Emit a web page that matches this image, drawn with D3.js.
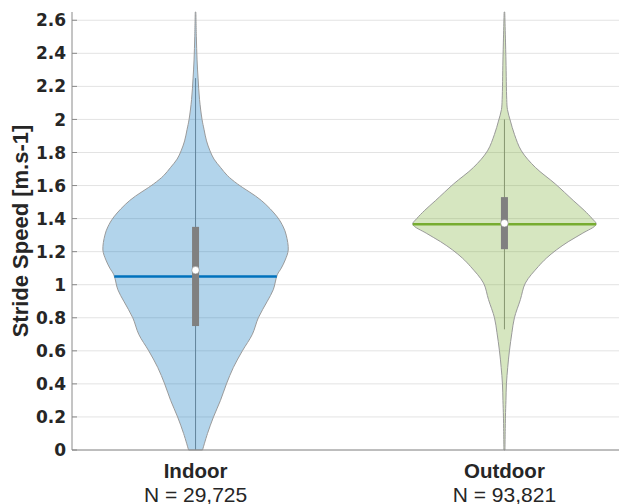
<!DOCTYPE html>
<html>
<head>
<meta charset="utf-8">
<script src="https://cdn.jsdelivr.net/npm/d3@7"></script>
<style>
  html, body { margin: 0; padding: 0; background: #fff; }
  svg { display: block; }
</style>
</head>
<body>
<svg id="chart" width="619" height="504"></svg>
<script>
// ---------------- data ----------------
const categories = ["Indoor", "Outdoor"];
const sampleSizes = ["N = 29,725", "N = 93,821"];

// kernel density outline (speed in m/s, relative density)
const indoorSpeed   = [0, 0.1, 0.2, 0.3, 0.4, 0.5, 0.6, 0.7, 0.8, 0.9, 0.97, 1.06, 1.1, 1.15, 1.21, 1.3, 1.35, 1.41, 1.51, 1.61, 1.66, 1.71, 1.76, 1.81, 1.87, 1.94, 2.0, 2.12, 2.25, 2.36, 2.5, 2.65];
const indoorDensity = [7, 12, 18, 25, 31, 38, 47, 57, 63, 72, 78, 82, 86, 90, 93, 91, 88, 82, 66, 42, 32, 25, 18.5, 14.5, 11, 8.5, 6.5, 4, 2.5, 1.5, 0.8, 0.3];

const outdoorSpeed   = [0, 0.2, 0.3, 0.4, 0.5, 0.6, 0.71, 0.8, 0.91, 1.01, 1.11, 1.16, 1.21, 1.26, 1.31, 1.366, 1.4, 1.45, 1.51, 1.61, 1.71, 1.81, 1.91, 1.99, 2.06, 2.12, 2.36, 2.65];
const outdoorDensity = [0.5, 1, 1.5, 2, 3.3, 5, 7.5, 10, 16, 21, 34, 42, 52, 64, 78, 92, 88, 80, 69, 51, 31, 17, 10, 6, 3, 2.3, 1.5, 0.3];

const medians   = [1.05, 1.366];
const means     = [1.088, 1.372];
const quartile1 = [0.75, 1.215];
const quartile3 = [1.35, 1.53];
const whiskerLo = [0, 0.73];
const whiskerHi = [2.25, 2.0];

const yTicks      = [0, 0.2, 0.4, 0.6, 0.8, 1, 1.2, 1.4, 1.6, 1.8, 2, 2.2, 2.4, 2.6];
const yTickLabels = ["0", "0.2", "0.4", "0.6", "0.8", "1", "1.2", "1.4", "1.6", "1.8", "2", "2.2", "2.4", "2.6"];

const colors = ["rgb(0,114,189)", "rgb(119,172,48)"];

// ---------------- layout ----------------
const svg = d3.select("#chart");
const plotLeft = 72, plotRight = 628, plotTop = 12, plotBottom = 450;

const x = d3.scaleLinear().domain([0.6, 2.4]).range([plotLeft, plotRight]);
const y = d3.scaleLinear().domain([0, 2.65]).range([plotBottom, plotTop]);
const maxDensity = d3.max([...indoorDensity, ...outdoorDensity]);
const w = d3.scaleLinear().domain([0, maxDensity]).range([0, 0.3]);

const violins = [
  { speed: indoorSpeed, density: indoorDensity },
  { speed: outdoorSpeed, density: outdoorDensity }
];

// grid
svg.append("g").selectAll("line").data(yTicks).join("line")
  .attr("x1", plotLeft).attr("x2", 619)
  .attr("y1", d => y(d)).attr("y2", d => y(d))
  .attr("stroke", "#e3e3e3").attr("stroke-width", 1);

function densityAt(v, s, val) {
  for (let i = 0; i < s.length - 1; i++) {
    if (val >= s[i] && val <= s[i + 1]) {
      const t = (val - s[i]) / (s[i + 1] - s[i]);
      return v[i] + t * (v[i + 1] - v[i]);
    }
  }
  return 0;
}

const g = svg.append("g");
violins.forEach((vi, i) => {
  const cx = i + 1;
  const pts = vi.speed.map((s, k) => ({ s, d: vi.density[k] }));
  const area = d3.area()
    .y(p => y(p.s))
    .x0(p => x(cx - w(p.d)))
    .x1(p => x(cx + w(p.d)))
    .curve(d3.curveCatmullRom.alpha(0.5));
  // whisker
  g.append("line")
    .attr("x1", x(cx)).attr("x2", x(cx))
    .attr("y1", y(whiskerLo[i])).attr("y2", y(whiskerHi[i]))
    .attr("stroke", "#8c8c8c").attr("stroke-width", 1);
  // body
  g.append("path").datum(pts)
    .attr("d", area)
    .attr("fill", colors[i]).attr("fill-opacity", 0.3)
    .attr("stroke", "#9a9a9a").attr("stroke-width", 1);
  // median line
  const md = densityAt(vi.density, vi.speed, medians[i]);
  g.append("line")
    .attr("x1", x(cx - w(md))).attr("x2", x(cx + w(md)))
    .attr("y1", y(medians[i])).attr("y2", y(medians[i]))
    .attr("stroke", colors[i]).attr("stroke-width", 2.5);
  // box
  g.append("rect")
    .attr("x", x(cx) - 3.5).attr("width", 7)
    .attr("y", y(quartile3[i])).attr("height", y(quartile1[i]) - y(quartile3[i]))
    .attr("fill", "#808080");
  // mean
  g.append("circle")
    .attr("cx", x(cx)).attr("cy", y(means[i])).attr("r", 3.8)
    .attr("fill", "#fff").attr("stroke", "#808080").attr("stroke-width", 0.6);
});

// axes lines
svg.append("line").attr("x1", plotLeft).attr("x2", 619).attr("y1", plotBottom).attr("y2", plotBottom)
  .attr("stroke", "#8a8a8a").attr("stroke-width", 1);
svg.append("line").attr("x1", plotLeft).attr("x2", plotLeft).attr("y1", plotTop).attr("y2", plotBottom)
  .attr("stroke", "#8a8a8a").attr("stroke-width", 1);

// y ticks
const yt = svg.append("g");
yt.selectAll("line").data(yTicks).join("line")
  .attr("x1", plotLeft).attr("x2", plotLeft + 5)
  .attr("y1", d => y(d)).attr("y2", d => y(d))
  .attr("stroke", "#8a8a8a");
yt.selectAll("text").data(yTicks).join("text")
  .attr("x", 66).attr("y", d => y(d))
  .attr("dy", "0.36em")
  .attr("text-anchor", "end")
  .attr("font-family", "'DejaVu Sans', sans-serif")
  .attr("font-weight", "bold").attr("font-size", 17)
  .attr("fill", "#262626")
  .text((d, k) => yTickLabels[k]);

// y label
svg.append("text")
  .attr("transform", `translate(28, ${(plotTop + plotBottom) / 2}) rotate(-90)`)
  .attr("text-anchor", "middle")
  .attr("font-family", "'Liberation Sans', Arial, sans-serif")
  .attr("font-weight", "bold").attr("font-size", 22)
  .attr("fill", "#262626")
  .text("Stride Speed [m.s-1]");

// x labels
categories.forEach((c, i) => {
  svg.append("text")
    .attr("x", x(i + 1)).attr("y", 477.5)
    .attr("text-anchor", "middle")
    .attr("font-family", "'Liberation Sans', Arial, sans-serif")
    .attr("font-weight", "bold").attr("font-size", 20.5)
    .attr("fill", "#262626")
    .text(c);
  svg.append("text")
    .attr("x", x(i + 1)).attr("y", 501.5)
    .attr("text-anchor", "middle")
    .attr("font-family", "'Liberation Sans', Arial, sans-serif")
    .attr("font-size", 21)
    .attr("fill", "#262626")
    .text(sampleSizes[i]);
});
</script>
</body>
</html>
